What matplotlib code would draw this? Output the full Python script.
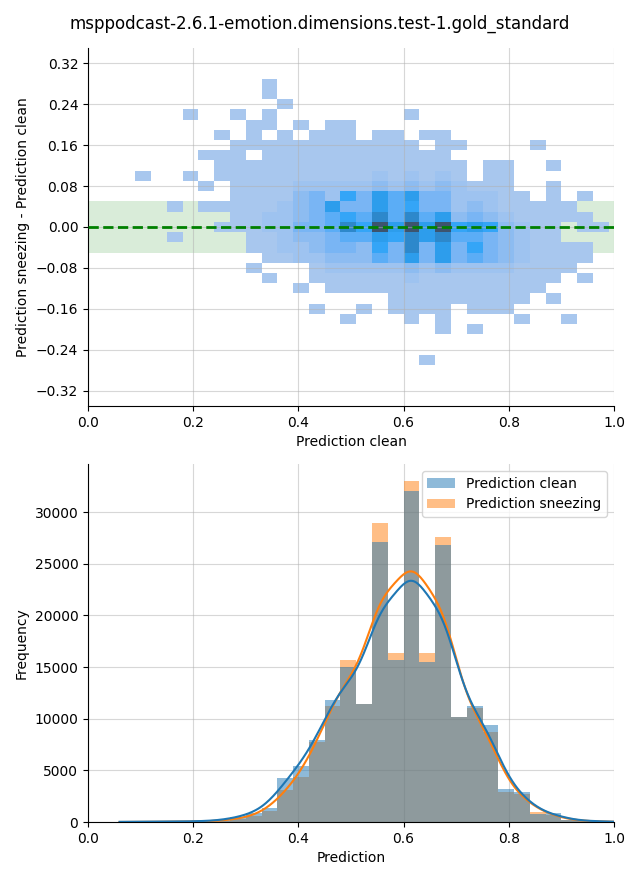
import numpy as np
import matplotlib
matplotlib.use("Agg")
import matplotlib.pyplot as plt
from matplotlib.colors import ListedColormap, LinearSegmentedColormap, to_rgb
from matplotlib.patches import Patch

TITLE = "msppodcast-2.6.1-emotion.dimensions.test-1.gold_standard"

# ---------------- bottom panel: 1-D histograms ----------------
hist_bin_start = 0.06
hist_bin_width = 0.03
clean_counts = [30, 40, 40, 50, 60, 80, 150, 450, 850, 1400, 4250, 5450, 7950,
                11800, 15000, 11450, 27100, 15700, 32050, 15500, 26850, 10200,
                11250, 9400, 3200, 2950, 760, 900, 150, 100, 80]
sneezing_counts = [0, 10, 20, 30, 40, 60, 100, 300, 550, 1100, 3100, 4400, 7700,
                   11250, 15700, 11450, 28950, 16400, 33000, 16400, 27600, 10200,
                   11000, 8750, 2900, 2700, 930, 700, 150, 80, 60]
kde_range = (0.06, 1.0)
kde_bandwidth = 0.03

# ---------------- top panel: 2-D histogram ----------------
grid_x_start = 0.09
grid_x_width = 0.03
grid_y_start = -0.27
grid_y_width = 0.02
# rows listed from top (diff = +0.28) to bottom (diff = -0.26); '.' = empty
grid_rows = [
    "....." "...1." "....." "....." "....." ".....",
    "....." "...1." "....." "....." "....." ".....",
    "....." "....1" "....." "....." "....." ".....",
    "...1." ".1.1." "....." "..1.." "....." ".....",
    "....." "..11." "1.11." "....." "....." ".....",
    "....." "1.1.1" ".111." "11.11" "....." ".....",
    "....." ".1111" "11111" "111.1" "1...." "1....",
    "....1" "11.11" "11111" "11111" "....." ".....",
    "....." "11111" "11111" "11111" "1.11." ".1...",
    "1..1." "11111" "11111" "21212" "1.11." ".....",
    "....1" ".1111" "22222" "32323" "2111." ".1...",
    "....." ".1111" "34264" "75744" "22211" ".1.1.",
    "..1.1" "11112" "34744" "75644" "23211" "111..",
    "....." ".1122" "34565" "85857" "34321" "1111.",
    "....." "11122" "44586" "97979" "67632" "11.11",
    "..1.." "..112" "33455" "76878" "55432" "11...",
    "....." "..112" "23443" "64847" "46432" "1111.",
    "....." "...11" "22333" "54747" "45432" "1111.",
    "....." "..1.." ".1222" "22323" "22221" "111..",
    "....." "...1." ".1111" "11211" "11111" "11.1.",
    "....." "....." "1.111" "11111" "11111" "1....",
    "....." "....." "....." ".1111" "11111" ".1...",
    "....." "....." ".1..1" ".1111" ".111." ".....",
    "....." "....." "...1." "..1.1" "....1" "..1..",
    "....." "....." "....." "....1" ".1..." ".....",
    "....." "....." "....." "....." "....." ".....",
    "....." "....." "....." "....." "....." ".....",
    "....." "....." "....." "...1." "....." ".....",
]
level_counts = {"1": 150, "2": 450, "3": 900, "4": 1400, "5": 1950,
                "6": 2550, "7": 3050, "8": 4400, "9": 7800}
band_half_width = 0.05


def seaborn_like_cmap(color):
    try:
        from seaborn.external import husl
        r, g, b = to_rgb(color)
        h, s, _ = husl.rgb_to_husl(r, g, b)
        xx = np.linspace(-1, 1, int(1.15 * 256))[:256]
        ramp = np.zeros((256, 3))
        ramp[:, 0] = h
        ramp[:, 1] = s * np.cos(xx)
        ramp[:, 2] = np.linspace(35, 80, 256)
        cols = np.clip([husl.husl_to_rgb(*hsl) for hsl in ramp], 0, 1)
        return ListedColormap(cols[::-1])
    except Exception:
        return LinearSegmentedColormap.from_list(
            "c0", ["#adcaef", "#85b8f0", "#36a2f4", "#2d88cf", "#3a5478"])


fig = plt.figure(figsize=(6.4, 8.8), dpi=100)
ax1 = fig.add_axes([0.1375, 0.5386, 0.8219, 0.4069])
ax2 = fig.add_axes([0.1375, 0.0659, 0.8219, 0.4068])
fig.suptitle(TITLE, fontsize=12, y=0.983)

# ---- top panel ----
n_rows = len(grid_rows)
n_cols = len(grid_rows[0])
counts2d = np.full((n_rows, n_cols), np.nan)
for i, row in enumerate(grid_rows):
    for j, ch in enumerate(row):
        if ch != ".":
            counts2d[i, j] = level_counts[ch]
counts2d = counts2d[::-1]
x_edges = grid_x_start + grid_x_width * np.arange(n_cols + 1)
y_edges = grid_y_start + grid_y_width * np.arange(n_rows + 1)

ax1.axhspan(-band_half_width, band_half_width, color="green", alpha=0.15,
            lw=0, zorder=0.8)
ax1.pcolormesh(x_edges, y_edges, np.ma.masked_invalid(counts2d),
               cmap=seaborn_like_cmap("#1f77b4"), vmin=0,
               vmax=np.nanmax(counts2d), zorder=1)
ax1.axhline(0, color="green", ls="--", lw=2, zorder=3)
ax1.set_xlim(0, 1)
ax1.set_ylim(-0.35, 0.35)
ax1.set_yticks(np.round(np.arange(-0.32, 0.33, 0.08), 2))
ax1.set_xlabel("Prediction clean")
ax1.set_ylabel("Prediction sneezing - Prediction clean")
ax1.grid(True, alpha=0.5)

# ---- bottom panel ----
n_bins = len(clean_counts)
h_edges = hist_bin_start + hist_bin_width * np.arange(n_bins + 1)
h_centers = (h_edges[:-1] + h_edges[1:]) / 2
ax2.hist(h_centers, bins=h_edges, weights=sneezing_counts, color="C1",
         alpha=0.5, zorder=2)
ax2.hist(h_centers, bins=h_edges, weights=clean_counts, color="C0",
         alpha=0.5, zorder=2)

xs = np.linspace(kde_range[0], kde_range[1], 400)


def kde_curve(counts):
    w = np.asarray(counts, float)
    z = (xs[:, None] - h_centers[None, :]) / kde_bandwidth
    dens = (w[None, :] * np.exp(-0.5 * z ** 2)).sum(axis=1)
    dens /= kde_bandwidth * np.sqrt(2 * np.pi)
    return dens * hist_bin_width


ax2.plot(xs, kde_curve(sneezing_counts), color="C1", lw=1.5, zorder=3)
ax2.plot(xs, kde_curve(clean_counts), color="C0", lw=1.5, zorder=3)
ax2.set_xlim(0, 1)
ax2.set_xlabel("Prediction")
ax2.set_ylabel("Frequency")
ax2.grid(True, alpha=0.5)
ax2.legend(handles=[Patch(facecolor="C0", edgecolor="none", alpha=0.5,
                          label="Prediction clean"),
                    Patch(facecolor="C1", edgecolor="none", alpha=0.5,
                          label="Prediction sneezing")],
           loc="upper right")

for ax in (ax1, ax2):
    ax.spines["top"].set_visible(False)
    ax.spines["right"].set_visible(False)

fig.savefig("out.png", dpi=100)
